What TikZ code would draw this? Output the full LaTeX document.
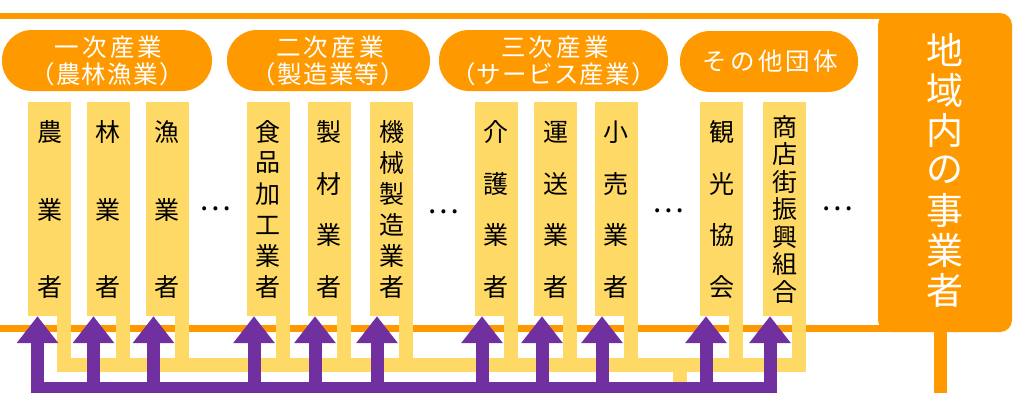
\documentclass[tikz,border=0pt]{standalone}
\usepackage{fontspec}
\setmainfont{Noto Sans CJK JP}
\newfontfamily\jpwide[LetterSpace=13]{Noto Sans CJK JP}
\newfontfamily\jpmid[LetterSpace=5]{Noto Sans CJK JP}
\usetikzlibrary{arrows.meta}
\definecolor{orng}{HTML}{FF9900}
\definecolor{ylw}{HTML}{FFD966}
\definecolor{prpl}{HTML}{7030A0}
\tikzset{
  pill/.style={fill=orng, rounded corners=30pt, text=white, inner sep=0pt, align=center,
    minimum height=61pt, font=\fontsize{24.5}{27}\selectfont},
  colbox/.style={fill=ylw, minimum width=43pt, minimum height=214pt, inner sep=0pt},
  coltext/.style={font=\fontsize{25}{25}\selectfont, inner sep=0pt},
  boxtext/.style={font=\fontsize{37}{37}\selectfont, inner sep=0pt, text=white},
  dots/.style={font=\fontsize{30}{30}\selectfont, inner sep=0pt},
  oline/.style={draw=orng},
  yline/.style={draw=ylw, line width=14pt, line join=miter},
  pline/.style={draw=prpl, line width=13pt},
  parrow/.style={draw=prpl, line width=13pt, -{Triangle[width=40pt,length=27pt]}}
}
\newcommand\vcol[6]{%
  \node[colbox] (#1) at (#2,209) {};
  \foreach \ch [count=\k] in {#6} {
    \pgfmathsetmacro\yy{#4+(\k-1)*(#5-#4)/(#3-1)}
    \node[coltext] (#1-t\k) at (#2,\yy) {\ch};
  }
}
\begin{document}
\begin{tikzpicture}[x=1pt,y=-1pt]
\useasboundingbox (0,0) rectangle (1014,392);
% right box
\node[fill=orng, rounded corners=12pt, minimum width=134pt, minimum height=319pt, inner sep=0pt] (box) at (945,172.5) {};
\foreach \ch [count=\k] in {地,域,内,の,事,業,者} {
  \pgfmathsetmacro\yy{50+(\k-1)*40}
  \node[boxtext] (bt\k) at (945,\yy) {\ch};
}
% orange lines
\coordinate (tl) at (0,16);
\coordinate (bl) at (0,328.5);
\coordinate (vb) at (940.5,395);
\draw[oline, line width=6.5pt] (tl) -- (tl -| box.center);
\draw[oline, line width=7pt] (bl) -- (bl -| box.center);
\draw[oline, line width=13pt] (box.south -| vb) -- (vb);
% pills
\node[pill, minimum width=210pt] (p1) at (107,60.5) {\hspace*{3pt}{\jpwide 一次産業}\\{\jpmid（農林漁業）}};
\node[pill, minimum width=203pt] (p2) at (328.5,60.5) {\hspace*{3pt}{\jpwide 二次産業}\\{\jpmid（製造業等）}};
\node[pill, minimum width=229pt] (p3) at (553.5,60.5) {\hspace*{3pt}{\jpwide 三次産業}\\{\jpmid（サービス産業）}};
\node[pill, minimum width=178pt] (p4) at (769,61.5) {\hspace*{3pt}{\jpwide その他団体}};
% columns
\vcol{c1}{49.5}{3}{132}{287}{農,業,者}
\vcol{c2}{108}{3}{132}{287}{林,業,者}
\vcol{c3}{167}{3}{132}{287}{漁,業,者}
\vcol{c4}{268}{6}{132}{287}{食,品,加,工,業,者}
\vcol{c5}{329}{4}{132}{287}{製,材,業,者}
\vcol{c6}{391.5}{6}{132}{287}{機,械,製,造,業,者}
\vcol{c7}{496}{4}{132}{287}{介,護,業,者}
\vcol{c8}{555.5}{4}{132}{287}{運,送,業,者}
\vcol{c9}{616}{4}{132}{287}{小,売,業,者}
\vcol{c10}{721.5}{4}{132}{287}{観,光,協,会}
\vcol{c11}{784.5}{7}{127}{292}{商,店,街,振,興,組,合}
% ellipses
\node[dots] (e1) at (215,209) {…};
\node[dots] (e2) at (443,212) {…};
\node[dots] (e3) at (668,211) {…};
\node[dots] (e4) at (837,209) {…};
% connector points
\foreach \n/\ax in {c1/-12,c2/-14.5,c3/-13.5,c4/-14,c5/-14,c6/-14.5,c7/-14,c8/-13.5,c9/-14,c10/-15.5,c11/-14.5} {
  \coordinate (\n-a) at ([xshift=\ax pt]\n.south);
  \coordinate (\n-y) at ([xshift=14.5pt]\n.south);
}
\coordinate (yb) at (0,365);
\coordinate (pb) at (0,388);
\coordinate (ye) at (680,395);
% yellow connectors
\draw[yline] (c1-y) -- (c1-y |- yb) -- (c11-y |- yb) -- (c11-y);
\foreach \n in {c2,c3,c4,c5,c6,c7,c8,c9,c10} {
  \draw[yline] (\n-y) -- (\n-y |- yb);
}
\draw[yline] (ye |- yb) -- (ye);
% purple connectors
\draw[pline, line cap=rect] (c1-a |- pb) -- (c11-a |- pb);
\foreach \n in {c1,c2,c3,c4,c5,c6,c7,c8,c9,c10,c11} {
  \draw[parrow] (\n-a |- pb) -- (\n-a);
}
\end{tikzpicture}
\end{document}
